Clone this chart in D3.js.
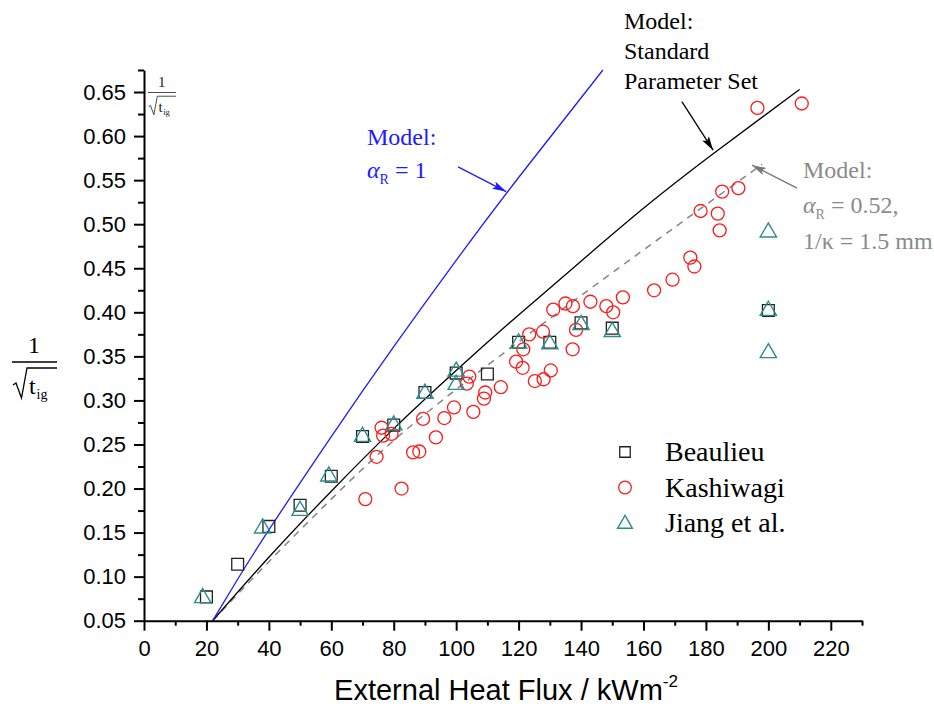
<!DOCTYPE html>
<html>
<head>
<meta charset="utf-8">
<script src="https://cdn.jsdelivr.net/npm/d3@7"></script>
<style>
  body { margin: 0; background: #fff; }
  #wrapper svg { display: block; }
</style>
</head>
<body>
<div id="wrapper"></div>
<script>
// ticks
const xTicks = [0, 20, 40, 60, 80, 100, 120, 140, 160, 180, 200, 220]
const xMinorTicks = [10, 30, 50, 70, 90, 110, 130, 150, 170, 190, 210, 230]
const yTicks = [0.05, 0.1, 0.15, 0.2, 0.25, 0.3, 0.35, 0.4, 0.45, 0.5, 0.55, 0.6, 0.65]
const yMinorTicks = [0.075, 0.125, 0.175, 0.225, 0.275, 0.325, 0.375, 0.425, 0.475, 0.525, 0.575, 0.625, 0.675]

// measured data [heat flux, 1/sqrt(tig)]
const beaulieu = [
  [20, 0.077], [30, 0.114], [40, 0.157], [50, 0.181], [60, 0.214], [70, 0.259],
  [80, 0.272], [90, 0.309], [100, 0.331], [110, 0.330], [120, 0.366], [130, 0.366],
  [140, 0.388], [150, 0.382], [200, 0.402],
]
const kashiwagi = [
  [70.9, 0.188], [74.5, 0.236], [76.1, 0.269], [76.6, 0.260], [79.3, 0.262], [82.5, 0.200],
  [86.2, 0.241], [88.2, 0.242], [89.4, 0.279], [93.5, 0.258], [96.2, 0.280], [99.3, 0.292],
  [103.4, 0.319], [104.2, 0.327], [105.5, 0.287], [108.9, 0.302], [109.3, 0.309], [114.3, 0.315],
  [119.2, 0.344], [121.3, 0.337], [121.5, 0.358], [123.4, 0.375], [125.2, 0.322], [128, 0.324],
  [127.8, 0.378], [130.3, 0.334], [131.1, 0.403], [135, 0.410], [137.4, 0.407], [137.3, 0.358],
  [138.4, 0.380], [143, 0.412], [148.1, 0.407], [150.3, 0.400], [153.4, 0.417], [163.4, 0.425],
  [169.3, 0.437], [175, 0.462], [176.3, 0.452], [178.3, 0.515], [183.8, 0.512], [184.4, 0.493],
  [185.2, 0.537], [190.4, 0.541], [196.5, 0.632], [210.7, 0.637],
]
const jiang = [
  [18.8, 0.077], [38, 0.156], [50, 0.176], [59.2, 0.215], [70, 0.260], [80, 0.273],
  [90, 0.309], [100, 0.334], [100, 0.319], [120, 0.366], [130, 0.365], [140, 0.387],
  [150, 0.379], [200, 0.403], [200, 0.355], [200, 0.492],
]

// model curves
const modelAlpha1 = [
  [22, 0.05], [30, 0.097], [40, 0.153], [60, 0.259], [80, 0.361], [100, 0.459],
  [120, 0.553], [147, 0.675],
]
const modelStandard = [
  [22, 0.05], [40, 0.122], [60, 0.197], [80, 0.268], [100, 0.334], [120, 0.397],
  [140, 0.458], [160, 0.518], [182, 0.579], [210, 0.653],
]
const modelFitted = [
  [22, 0.05], [40, 0.117], [60, 0.188], [80, 0.2545], [100, 0.3125], [120, 0.3665],
  [150, 0.445], [198, 0.568],
]

// annotation arrows [from, to] in data units
const arrowAlpha1 = [[100.6, 0.565], [116, 0.537]]
const arrowStandard = [[172.3, 0.639], [182.3, 0.584]]
const arrowFitted = [[209.2, 0.541], [194.8, 0.567]]

const legendItems = ["Beaulieu", "Kashiwagi", "Jiang et al."]

function drawChart() {
  const xAccessor = (d) => d[0]
  const yAccessor = (d) => d[1]

  let dimensions = {
    width: 934,
    height: 711,
    margins: { top: 70, right: 72, bottom: 90.3, left: 144 },
  }
  dimensions.boundedWidth =
    dimensions.width - dimensions.margins.left - dimensions.margins.right
  dimensions.boundedHeight =
    dimensions.height - dimensions.margins.top - dimensions.margins.bottom

  const sans = "'Liberation Sans', Arial, sans-serif"
  const serif = "'Liberation Serif', 'Times New Roman', serif"
  const blue = "#1c1cff"
  const grey = "#8a8a8a"
  const red = "#ff1a1a"
  const teal = "#2b8d8d"

  const wrapper = d3
    .select("#wrapper")
    .append("svg")
    .attr("width", dimensions.width)
    .attr("height", dimensions.height)

  const defs = wrapper.append("defs")
  const addHead = (id, color) =>
    defs
      .append("marker")
      .attr("id", id)
      .attr("viewBox", "0 0 14 8")
      .attr("refX", 14)
      .attr("refY", 4)
      .attr("markerWidth", 14)
      .attr("markerHeight", 8)
      .attr("markerUnits", "userSpaceOnUse")
      .attr("orient", "auto")
      .append("path")
      .attr("d", "M0,0 L14,4 L0,8 L3,4 Z")
      .attr("fill", color)
  addHead("head-blue", blue)
  addHead("head-black", "#000")
  addHead("head-grey", "#777")

  const bounds = wrapper
    .append("g")
    .attr(
      "transform",
      `translate(${dimensions.margins.left}, ${dimensions.margins.top})`
    )

  const xScale = d3
    .scaleLinear()
    .domain([0, 230])
    .range([0, dimensions.boundedWidth])

  const yScale = d3
    .scaleLinear()
    .domain([0.05, 0.675])
    .range([dimensions.boundedHeight, 0])

  bounds
    .append("clipPath")
    .attr("id", "plot-clip")
    .append("rect")
    .attr("y", -2)
    .attr("width", dimensions.boundedWidth)
    .attr("height", dimensions.boundedHeight + 2)

  // model lines
  const lineGenerator = d3
    .line()
    .x((d) => xScale(xAccessor(d)))
    .y((d) => yScale(yAccessor(d)))
    .curve(d3.curveNatural)

  const lines = bounds.append("g").attr("clip-path", "url(#plot-clip)")

  lines
    .append("path")
    .attr("d", lineGenerator(modelFitted))
    .attr("fill", "none")
    .attr("stroke", "#858585")
    .attr("stroke-width", 1.5)
    .attr("stroke-dasharray", "7,6")

  lines
    .append("path")
    .attr("d", lineGenerator(modelStandard))
    .attr("fill", "none")
    .attr("stroke", "#000")
    .attr("stroke-width", 1.3)

  lines
    .append("path")
    .attr("d", lineGenerator(modelAlpha1))
    .attr("fill", "none")
    .attr("stroke", blue)
    .attr("stroke-width", 1.3)

  // data points
  const squareSymbol = d3.symbol().type(d3.symbolSquare).size(140)
  const triangleSymbol = d3.symbol().type(d3.symbolTriangle).size(115)

  bounds
    .append("g")
    .selectAll("path")
    .data(beaulieu)
    .join("path")
    .attr("d", squareSymbol)
    .attr(
      "transform",
      (d) => `translate(${xScale(xAccessor(d))}, ${yScale(yAccessor(d))})`
    )
    .attr("fill", "none")
    .attr("stroke", "#222")
    .attr("stroke-width", 1.3)

  bounds
    .append("g")
    .selectAll("circle")
    .data(kashiwagi)
    .join("circle")
    .attr("cx", (d) => xScale(xAccessor(d)))
    .attr("cy", (d) => yScale(yAccessor(d)))
    .attr("r", 6.5)
    .attr("fill", "none")
    .attr("stroke", red)
    .attr("stroke-width", 1.3)

  bounds
    .append("g")
    .selectAll("path")
    .data(jiang)
    .join("path")
    .attr("d", triangleSymbol)
    .attr(
      "transform",
      (d) => `translate(${xScale(xAccessor(d))}, ${yScale(yAccessor(d)) + 1})`
    )
    .attr("fill", "none")
    .attr("stroke", teal)
    .attr("stroke-width", 1.4)

  // axes
  const yAxis = bounds
    .append("g")
    .call(d3.axisLeft(yScale).tickValues(yTicks).tickSize(10).tickSizeOuter(0).tickFormat(d3.format(".2f")))
  bounds
    .append("g")
    .call(d3.axisLeft(yScale).tickValues(yMinorTicks).tickSize(6).tickSizeOuter(0).tickFormat(""))
    .select(".domain")
    .remove()

  const xAxis = bounds
    .append("g")
    .attr("transform", `translate(0, ${dimensions.boundedHeight})`)
    .call(d3.axisBottom(xScale).tickValues(xTicks).tickSize(10).tickSizeOuter(0))
  bounds
    .append("g")
    .attr("transform", `translate(0, ${dimensions.boundedHeight})`)
    .call(d3.axisBottom(xScale).tickValues(xMinorTicks).tickSize(5).tickSizeOuter(0).tickFormat(""))
    .select(".domain")
    .remove()

  bounds.selectAll(".domain").attr("stroke", "#000").attr("stroke-width", 2)
  bounds.selectAll(".tick line").attr("stroke", "#000").attr("stroke-width", 2)

  yAxis
    .selectAll(".tick text")
    .attr("x", -18)
    .attr("font-family", sans)
    .attr("font-size", 22)
    .attr("fill", "#000")

  xAxis
    .selectAll(".tick text")
    .attr("y", 20)
    .attr("font-family", sans)
    .attr("font-size", 22)
    .attr("fill", "#000")

  // x axis title
  const xTitle = wrapper
    .append("text")
    .attr("x", 506)
    .attr("y", 700)
    .attr("text-anchor", "middle")
    .attr("font-family", sans)
    .attr("font-size", 29)
    .attr("fill", "#000")
  xTitle.append("tspan").text("External Heat Flux / kWm")
  xTitle.append("tspan").attr("dy", -13).attr("font-size", 17).text("-2")

  // 1/sqrt(t_ig) fraction
  function drawFraction(x, y, s, color) {
    const g = wrapper
      .append("g")
      .attr("transform", `translate(${x}, ${y}) scale(${s})`)
      .attr("fill", color)
      .attr("font-family", serif)
    g.append("text").attr("x", 22).attr("y", -9).attr("text-anchor", "middle").attr("font-size", 24).text("1")
    g.append("line").attr("x1", 0).attr("x2", 45).attr("stroke", color).attr("stroke-width", 1.3)
    g.append("path")
      .attr("d", "M1,23 L4,21 L9.5,36 L15,6 L45,6")
      .attr("fill", "none")
      .attr("stroke", color)
      .attr("stroke-width", 1.3)
    g.append("text").attr("x", 17).attr("y", 32).attr("font-size", 24).text("t")
    g.append("text").attr("x", 24.5).attr("y", 37).attr("font-size", 14).text("ig")
  }
  drawFraction(12, 362, 1, "#000")
  drawFraction(148, 92.5, 0.62, "#222")

  // annotations
  const addArrow = (pts, marker, color) =>
    wrapper
      .append("line")
      .attr("x1", dimensions.margins.left + xScale(pts[0][0]))
      .attr("y1", dimensions.margins.top + yScale(pts[0][1]))
      .attr("x2", dimensions.margins.left + xScale(pts[1][0]))
      .attr("y2", dimensions.margins.top + yScale(pts[1][1]))
      .attr("stroke", color)
      .attr("stroke-width", 1.3)
      .attr("marker-end", `url(#${marker})`)

  addArrow(arrowAlpha1, "head-blue", blue)
  addArrow(arrowStandard, "head-black", "#000")
  addArrow(arrowFitted, "head-grey", "#777")

  const note = wrapper.append("g").attr("font-family", serif).attr("font-size", 24)

  note.append("text").attr("x", 367).attr("y", 145).attr("fill", blue).text("Model:")
  const alpha1 = note.append("text").attr("x", 367).attr("y", 178).attr("fill", blue)
  alpha1.append("tspan").attr("font-style", "italic").text("α")
  alpha1.append("tspan").attr("dy", 6).attr("font-size", 14).text("R")
  alpha1.append("tspan").attr("dy", -6).text(" = 1")

  note.append("text").attr("x", 624).attr("y", 29).attr("fill", "#000").text("Model:")
  note.append("text").attr("x", 624).attr("y", 59).attr("fill", "#000").text("Standard")
  note.append("text").attr("x", 624).attr("y", 89).attr("fill", "#000").text("Parameter Set")

  note.append("text").attr("x", 803).attr("y", 178).attr("fill", grey).text("Model:")
  const alpha2 = note.append("text").attr("x", 803).attr("y", 213).attr("fill", grey)
  alpha2.append("tspan").attr("font-style", "italic").text("α")
  alpha2.append("tspan").attr("dy", 6).attr("font-size", 14).text("R")
  alpha2.append("tspan").attr("dy", -6).text(" = 0.52,")
  note.append("text").attr("x", 803).attr("y", 249).attr("fill", grey).text("1/κ = 1.5 mm")

  // legend
  const legend = wrapper.append("g").attr("transform", "translate(625, 452)")
  const rowGap = 35.5
  legend
    .append("path")
    .attr("d", d3.symbol().type(d3.symbolSquare).size(110)())
    .attr("fill", "none")
    .attr("stroke", "#222")
    .attr("stroke-width", 1.3)
  legend
    .append("circle")
    .attr("cy", rowGap)
    .attr("r", 6.3)
    .attr("fill", "none")
    .attr("stroke", red)
    .attr("stroke-width", 1.3)
  legend
    .append("path")
    .attr("d", d3.symbol().type(d3.symbolTriangle).size(95)())
    .attr("transform", `translate(0, ${rowGap * 2 + 1})`)
    .attr("fill", "none")
    .attr("stroke", teal)
    .attr("stroke-width", 1.4)
  legend
    .selectAll("text")
    .data(legendItems)
    .join("text")
    .attr("x", 40)
    .attr("y", (d, i) => i * rowGap + 9)
    .attr("font-family", serif)
    .attr("font-size", 28)
    .attr("fill", "#000")
    .text((d) => d)
}

drawChart()
</script>
</body>
</html>
